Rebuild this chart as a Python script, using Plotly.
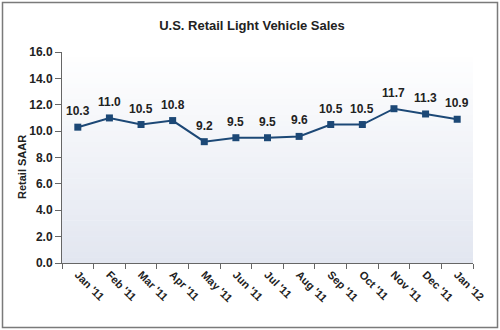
import plotly.graph_objects as go

months = ["Jan '11", "Feb '11", "Mar '11", "Apr '11", "May '11", "Jun '11", "Jul '11",
          "Aug '11", "Sep '11", "Oct '11", "Nov '11", "Dec '11", "Jan '12"]
saar = [10.3, 11.0, 10.5, 10.8, 9.2, 9.5, 9.5, 9.6, 10.5, 10.5, 11.7, 11.3, 10.9]
y_ticks = [0, 2, 4, 6, 8, 10, 12, 14, 16]

FONT = "Liberation Sans, Arial, Helvetica, sans-serif"
LINE = "#1c4876"
TXT = "#222222"

W, H = 500, 330
ml, mr, mt, mb = 62, 27, 52, 67
pw, ph = W - ml - mr, H - mt - mb

fig = go.Figure()
fig.add_trace(go.Scatter(
    x=months, y=saar, mode="lines+markers",
    line=dict(color=LINE, width=2),
    marker=dict(symbol="square", size=7, color=LINE),
    hoverinfo="skip", showlegend=False,
))

annotations = []
for m, v in zip(months, saar):
    annotations.append(dict(
        x=m, y=v, xref="x", yref="y", text=f"{v:.1f}", showarrow=False,
        yshift=16, font=dict(family=FONT, size=12, color=TXT, weight="bold"),
    ))

# y-axis title as annotation (placed lower than center like the reference)
annotations.append(dict(
    text="Retail SAAR", textangle=-90, showarrow=False,
    xref="paper", yref="paper",
    x=(22 - ml) / pw, y=(H - mb - 167) / ph, xanchor="center", yanchor="middle",
    font=dict(family=FONT, size=11, color=TXT, weight="bold"),
))

# gradient plot background (styling only)
shapes = []
n = 40
top = (255, 255, 255)
bot = (226, 230, 240)
for i in range(n):
    t = (i + 0.5) / n
    c = tuple(round(top[k] + (bot[k] - top[k]) * t) for k in range(3))
    shapes.append(dict(
        type="rect", xref="x domain", yref="y domain",
        x0=0, x1=1, y0=1 - (i + 1) / n, y1=1 - i / n + 0.002,
        fillcolor="rgb(%d,%d,%d)" % c, line=dict(width=0), layer="below",
    ))

# outer frame
shapes.append(dict(
    type="rect", xref="paper", yref="paper",
    x0=(2.5 - ml) / pw, x1=(497.5 - ml) / pw,
    y0=(H - mb - 327.5) / ph, y1=(H - mb - 2.5) / ph,
    line=dict(color="#7a7a7a", width=1.5), fillcolor="rgba(0,0,0,0)", layer="above",
))

fig.update_layout(
    width=W, height=H,
    margin=dict(l=ml, r=mr, t=mt, b=mb, pad=0),
    paper_bgcolor="white", plot_bgcolor="rgba(0,0,0,0)",
    font=dict(family=FONT, color=TXT),
    title=dict(text="U.S. Retail Light Vehicle Sales", x=0.504, xanchor="center",
               y=1 - 25 / H, yanchor="middle",
               font=dict(family=FONT, size=13, color=TXT, weight="bold")),
    shapes=shapes, annotations=annotations,
    xaxis=dict(
        type="category", tickson="boundaries", ticks="outside", ticklen=5,
        tickcolor="#666666", tickwidth=1, showline=True, linecolor="#666666", linewidth=1,
        showgrid=False, tickangle=45,
        tickfont=dict(family=FONT, size=11, color=TXT, weight="bold"),
        range=[-0.5, len(months) - 0.5],
    ),
    yaxis=dict(
        range=[0, 16], tickvals=y_ticks, tickformat=".1f", ticks="outside", ticklen=6,
        tickcolor="#666666", showline=True, linecolor="#666666", linewidth=1,
        showgrid=False, zeroline=False,
        tickfont=dict(family=FONT, size=12, color=TXT, weight="bold"),
    ),
)

fig.write_html("out.html")
